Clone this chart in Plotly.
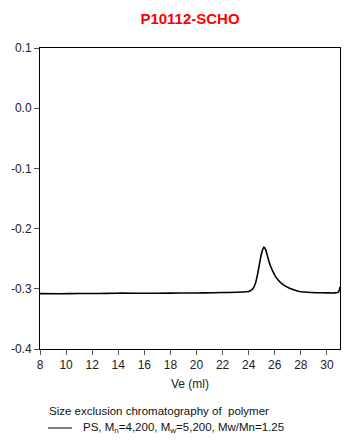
import plotly.graph_objects as go

ve_ml = [8.0, 9.5, 11.0, 12.5, 13.8, 14.2, 16.0, 18.0, 19.5, 20.5, 22.0, 23.0, 23.8, 24.1, 24.3,
         24.5, 24.7, 24.85, 25.0, 25.16, 25.3, 25.47, 25.65, 25.85, 26.1, 26.37, 26.7, 27.13,
         27.5, 27.9, 28.5, 29.2, 30.0, 30.6, 30.85, 30.95, 31.0]
signal = [-0.308, -0.3082, -0.3078, -0.3078, -0.3074, -0.3072, -0.3075, -0.3072, -0.3070, -0.3068,
          -0.3062, -0.3058, -0.3050, -0.3035, -0.3005,
          -0.292, -0.274, -0.256, -0.240, -0.2305, -0.235, -0.248, -0.261, -0.271, -0.281, -0.288,
          -0.294, -0.299, -0.302, -0.3045, -0.3058, -0.3065, -0.3068, -0.3068, -0.306, -0.302, -0.297]

x_ticks = list(range(8, 31, 2))
y_ticks = [0.1, 0.0, -0.1, -0.2, -0.3, -0.4]
y_tick_text = ["0.1", "0.0", "-0.1", "-0.2", "-0.3", "-0.4"]

title_text = "P10112-SCHO"
x_title = "Ve (ml)"
caption = "Size exclusion chromatography of  polymer"
legend_text = "PS, M<sub>n</sub>=4,200, M<sub>w</sub>=5,200, Mw/Mn=1.25"

FONT = "Liberation Sans, Arial, sans-serif"

# page body has an 8px default margin: figure is 350x437 so it fills the 358x445 window
W, H = 350, 437
OFF = 8
L, R, T, B = 40 - OFF, 18, 48 - OFF, 96
PW, PH = W - L - R, H - T - B

def px_x(px):
    return (px - OFF - L) / PW

def px_y(py):
    return 1 - (py - OFF - T) / PH

fig = go.Figure()
fig.add_trace(go.Scatter(x=ve_ml, y=signal, mode="lines",
                         line=dict(color="black", width=1.6, shape="spline", smoothing=0.6),
                         showlegend=False, hoverinfo="skip"))

fig.update_layout(
    width=W, height=H,
    margin=dict(l=L, r=R, t=T, b=B),
    paper_bgcolor="white", plot_bgcolor="white",
    font=dict(family=FONT, size=12, color="#222"),
    title=dict(text="<b>" + title_text + "</b>", x=px_x(190), xref="paper", xanchor="center",
               y=1 - (19 - OFF) / H, yanchor="middle",
               font=dict(family=FONT, size=15, color="#ff0000")),
)
fig.update_xaxes(range=[8, 31], tickvals=x_ticks, ticks="outside", ticklen=5, tickcolor="#555",
                 showline=True, linecolor="black", linewidth=1, mirror=True, showgrid=False,
                 zeroline=False, automargin=False, tickfont=dict(size=12, color="#222"),
                 title=dict(text=x_title, font=dict(size=12, color="#222"), standoff=8))
fig.update_yaxes(range=[-0.4, 0.1], tickvals=y_ticks, ticktext=y_tick_text, ticks="outside",
                 ticklen=5, tickcolor="#555", showline=True, linecolor="black", linewidth=1,
                 mirror=True, showgrid=False, zeroline=False, automargin=False,
                 tickfont=dict(size=12, color="#222"))

fig.add_annotation(text=caption, xref="paper", yref="paper", x=px_x(47), y=px_y(411),
                   xanchor="left", yanchor="middle", showarrow=False,
                   font=dict(family=FONT, size=11.5, color="#111"))
fig.add_shape(type="line", xref="paper", yref="paper",
              x0=px_x(48), x1=px_x(72), y0=px_y(428), y1=px_y(428),
              line=dict(color="black", width=1))
fig.add_annotation(text=legend_text, xref="paper", yref="paper", x=px_x(81), y=px_y(428),
                   xanchor="left", yanchor="middle", showarrow=False,
                   font=dict(family=FONT, size=11.5, color="#111"))

fig.write_html("out.html")
